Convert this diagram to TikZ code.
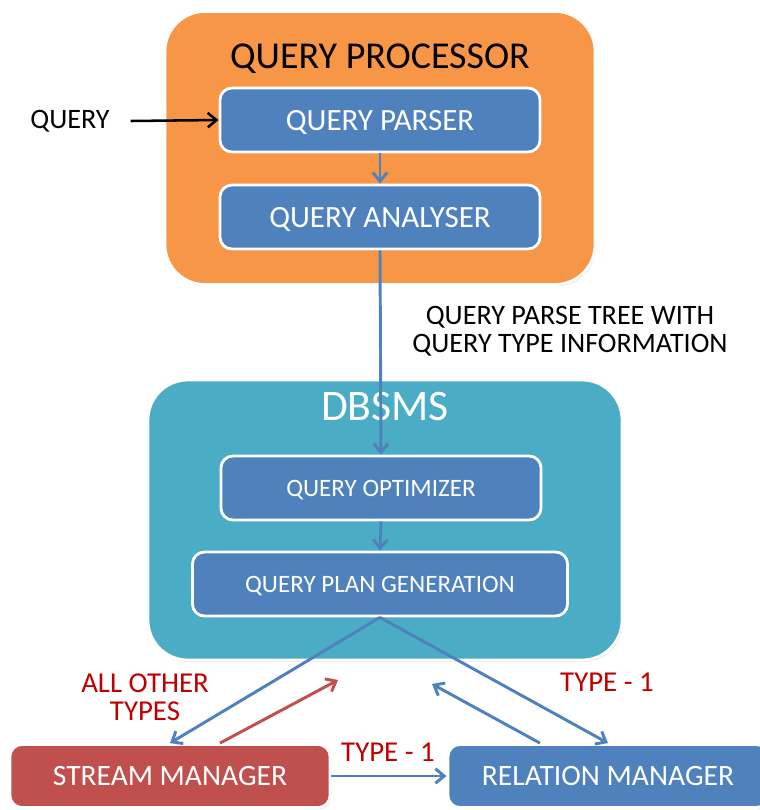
\documentclass[tikz,border=0pt]{standalone}
\usepackage{fontspec}
\setmainfont{Carlito}
\usetikzlibrary{arrows.meta,shadows}

\definecolor{procorange}{HTML}{F79646}
\definecolor{dbteal}{HTML}{4BACC6}
\definecolor{boxblue}{HTML}{4F81BD}
\definecolor{boxred}{HTML}{C0504D}
\definecolor{labelred}{HTML}{C00000}

\tikzset{
  caps/.style={text depth=0pt},
  outerbox/.style={draw=white, line width=2pt, rounded corners=1cm, inner sep=0pt,
    drop shadow={opacity=0.3, shadow xshift=0.8pt, shadow yshift=-1.2pt}},
  innerbox/.style={caps, fill=boxblue, draw=white, line width=2pt, rounded corners=0.3cm,
    inner sep=0pt, text=white, minimum height=1.6cm,
    drop shadow={opacity=0.3, shadow xshift=0.8pt, shadow yshift=-1.2pt}},
  flow/.style={boxblue, line width=2.1pt, -{Straight Barb[length=2.2mm,width=3.6mm]}},
  redlabel/.style={text=labelred, font=\fontsize{20.5}{20}\selectfont, align=center},
}

\begin{document}
\begin{tikzpicture}[x=0.025cm, y=-0.025cm]  % 以像素为单位

    \useasboundingbox (0,0) rectangle (760,810);

    % 查询处理器外框
    \node[outerbox, fill=procorange, minimum width=10.75cm, minimum height=6.825cm] (proc) at (380,148) {};
    \node[caps, font=\fontsize{27}{32}\selectfont] (proctitle) at (380,56) {QUERY PROCESSOR};

    % 解析器与分析器
    \node[innerbox, minimum width=8cm, font=\fontsize{22}{26}\selectfont] (parser) at (380,120) {QUERY PARSER};
    \node[innerbox, minimum width=8cm, font=\fontsize{22}{26}\selectfont] (analyser) at (380,217) {QUERY ANALYSER};

    % 输入查询
    \node[caps, font=\fontsize{20}{24}\selectfont] (qin) at (70,119) {QUERY};
    \draw[line width=1.8pt, -{Straight Barb[length=2.2mm,width=3.6mm]}] (qin.east) ++(16,2) -- (parser.west);

    % DBSMS 外框
    \node[outerbox, fill=dbteal, minimum width=11.85cm, minimum height=7cm] (dbsms) at (385,520) {};
    \node[caps, text=white, font=\fontsize{31}{36}\selectfont] (dbtitle) at (385,406) {DBSMS};

    % 优化器与计划生成
    \node[innerbox, minimum width=8cm, font=\fontsize{17.8}{22}\selectfont] (optimizer) at (381,488) {QUERY OPTIMIZER};
    \node[innerbox, minimum width=9.375cm, font=\fontsize{17.8}{22}\selectfont] (plangen) at (380,584) {QUERY PLAN GENERATION};

    % 中间说明文字
    \node[align=center, font=\fontsize{20}{20}\selectfont] (treeinfo) at (570,331) {QUERY PARSE TREE WITH\\QUERY TYPE INFORMATION};

    % 底部两个管理器
    \node[innerbox, fill=boxred, minimum width=8cm, minimum height=1.575cm, font=\fontsize{21}{24}\selectfont] (stream) at (170,776) {STREAM MANAGER};
    \node[innerbox, minimum width=8cm, minimum height=1.575cm, font=\fontsize{21}{24}\selectfont] (relation) at (608,776) {RELATION MANAGER};

    % 红色标签
    \node[redlabel] (othertypes) at (145,697) {ALL OTHER\\TYPES};
    \node[redlabel, caps] (typeright) at (607,682) {TYPE - 1};
    \node[redlabel, caps] (typemid) at (388,752) {TYPE - 1};

    % 箭头终点
    \coordinate (streamret) at (338,680);
    \coordinate (relret) at (432,684);

    % 连线
    \draw[flow] (parser.south) -- (analyser.north);
    \draw[flow] (analyser.south) -- (optimizer.north);
    \draw[flow] (optimizer.south) -- (plangen.north);
    \draw[flow] (plangen.south) -- (stream.north);
    \draw[flow] (plangen.south) -- (relation.north);
    \draw[flow, boxred] (220,0 |- stream.north) -- (streamret);
    \draw[flow] (540,0 |- relation.north) -- (relret);
    \draw[flow] (stream.east) -- (relation.west);

\end{tikzpicture}
\end{document}
